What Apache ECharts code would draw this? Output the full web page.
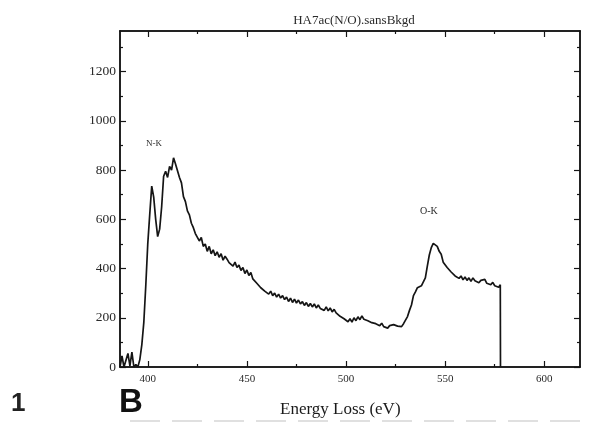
<!DOCTYPE html>
<html>
<head>
<meta charset="utf-8">
<style>html,body{margin:0;padding:0;background:#fff}#c{width:589px;height:424px}</style>
<script src="https://cdn.jsdelivr.net/npm/echarts@6/dist/echarts.min.js"></script>
</head>
<body>
<div id="c"></div>
<script>
// Energy loss (eV) and counts
const energy = [386,387,388,389,390,391,392,393,394,395,396,397,398,399,400,401,402,403,404,405,406,407,408,409,410,411,412,413,414,415,416,417,418,419,420,421,422,423,424,425,426,427,428,429,430,431,432,433,434,435,436,437,438,439,440,441,442,443,444,445,446,447,448,449,450,451,452,453,454,455,456,457,458,459,460,461,462,463,464,465,466,467,468,469,470,471,472,473,474,475,476,477,478,479,480,481,482,483,484,485,486,487,488,489,490,491,492,493,494,495,496,497,498,499,500,501,502,503,504,505,506,507,508,509,510,511,512,513,514,515,516,517,518,519,520,521,522,523,524,525,526,527,528,529,530,531,532,533,534,535,536,537,538,539,540,541,542,543,544,545,546,547,548,549,550,551,552,553,554,555,556,557,558,559,560,561,562,563,564,565,566,567,568,569,570,571,572,573,574,575,576,577,577.8,577.9];
const counts = [
  0,45,0,5,55,5,60,0,10,0,
  30,90,180,330,500,620,735,690,600,530,
  560,650,775,795,770,815,800,850,825,830,
  770,748,692,672,634,618,584,566,542,546,
  512,526,490,500,470,490,460,476,452,468,
  446,460,434,450,438,424,428,410,426,404,
  414,392,404,380,394,372,384,358,362,340,
  338,322,328,308,316,296,308,290,300,284,
  296,280,290,274,284,266,280,262,276,260,
  272,256,266,250,262,246,258,244,256,240,
  252,238,246,230,244,228,240,224,234,220,
  224,206,210,196,198,184,196,182,200,188,
  204,192,208,194,202,188,196,180,188,176,
  182,168,178,164,172,158,168,160,172,164,
  166,172,164,176,182,205,230,252,290,305,
  322,316,330,338,362,410,455,485,502,494,
  490,470,458,426,418,404,402,386,388,370,
  374,360,370,354,366,352,362,348,362,350,
  358,342,352,346,356,340,348,334,344,330,
  338,324,334,0];
const xMajor = [400,450,500,550,600];
const xMinor = [425,475,525,575];
const yMajor = [0,200,400,600,800,1000,1200];
const yMinor = [100,300,500,700,900,1100,1300];
const xRange = [386,618];
const yRange = [0,1365];
const titleText = 'HA7ac(N/O).sansBkgd';
const xName = 'Energy Loss (eV)';

const lineCol = '#151515';
const txtCol = '#2a2a2a';
const serif = '"Liberation Serif", "DejaVu Serif", serif';
const gridPos = {left:120, right:9, top:31, bottom:57};

function xAx(grid, pos, ticks, len, labels){
  return {type:'value', gridIndex:grid, position:pos, min:xRange[0], max:xRange[1],
    axisLine:{show:true, onZero:false, lineStyle:{color:lineCol, width:1.5}},
    axisTick:{show:true, inside:true, length:len, customValues:ticks, lineStyle:{color:lineCol, width:1.2}},
    axisLabel:{show:labels, customValues:ticks, color:txtCol, fontFamily:serif, fontSize:11, margin:7,
      formatter:(v)=>String(v)},
    splitLine:{show:false}};
}
function yAx(grid, pos, ticks, len, labels){
  return {type:'value', gridIndex:grid, position:pos, min:yRange[0], max:yRange[1],
    axisLine:{show:true, onZero:false, lineStyle:{color:lineCol, width:1.5}},
    axisTick:{show:true, inside:true, length:len, customValues:ticks, lineStyle:{color:lineCol, width:1.2}},
    axisLabel:{show:labels, customValues:ticks, color:txtCol, fontFamily:serif, fontSize:13.5, margin:4,
      formatter:(v)=>String(v)},
    splitLine:{show:false}};
}

const chart = echarts.init(document.getElementById('c'), null, {renderer:'canvas'});
chart.setOption({
  backgroundColor:'#fff',
  animation:false,
  title:{text:titleText, left:349, top:9, textAlign:'center',
    textStyle:{fontFamily:serif, fontSize:13, fontWeight:'normal', color:txtCol}},
  grid:[Object.assign({}, gridPos), Object.assign({}, gridPos)],
  xAxis:[xAx(0,'bottom',xMajor,6,true), xAx(0,'top',xMajor,6,false), xAx(1,'bottom',xMinor,3,false), xAx(1,'top',xMinor,3,false)],
  yAxis:[yAx(0,'left',yMajor,6,true), yAx(0,'right',yMajor,6,false), yAx(1,'left',yMinor,3,false), yAx(1,'right',yMinor,3,false)],
  series:[{type:'line', xAxisIndex:0, yAxisIndex:0, data:energy.map((e,i)=>[e,counts[i]]),
    showSymbol:false, lineStyle:{color:lineCol, width:1.7}, clip:true}],
  graphic:[
    {type:'text', left:146, top:139, style:{text:'N-K', font:'9px '+serif, fill:txtCol}},
    {type:'text', left:420, top:206, style:{text:'O-K', font:'10px '+serif, fill:txtCol}},
    {type:'text', left:280, top:401, style:{text:xName, font:'17px '+serif, fill:'#1a1a1a'}},
    {type:'text', left:119, top:386, style:{text:'B', font:'bold 33px "Liberation Sans", Arial, sans-serif', fill:'#111'}},
    {type:'text', left:11, top:391, style:{text:'1', font:'bold 26px "Liberation Sans", Arial, sans-serif', fill:'#222'}},
    {type:'line', shape:{x1:130, y1:421, x2:589, y2:421}, style:{stroke:'#d6d6d6', lineWidth:1.5, lineDash:[30,12]}}
  ]
});
</script>
</body>
</html>
